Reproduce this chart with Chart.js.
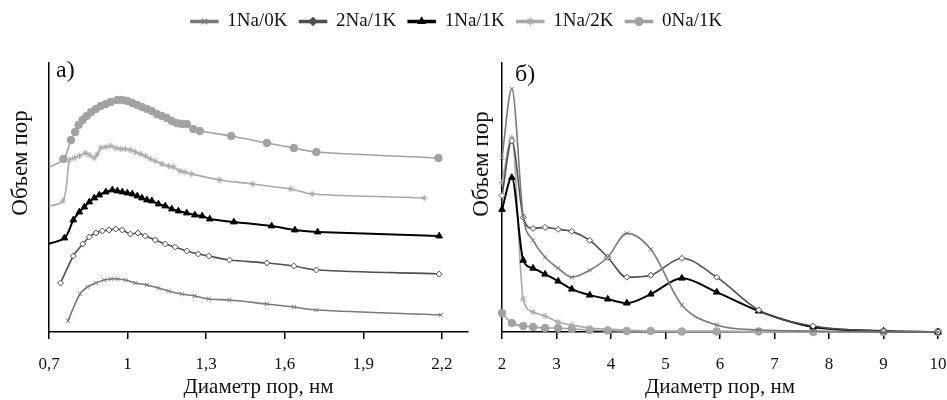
<!DOCTYPE html>
<html>
<head>
<meta charset="utf-8">
<script src="https://cdn.jsdelivr.net/npm/chart.js@4.4.0/dist/chart.umd.min.js"></script>
<style>
  body { margin: 0; background: #fff; overflow: hidden; }
  #wrap { position: relative; width: 947px; height: 400px; overflow: hidden; font-family: "Liberation Serif", "Times New Roman", serif; color: #111; }
  canvas { position: absolute; }
  .lbl { position: absolute; font-size: 24px; line-height: 1; }
  .ytitle { position: absolute; font-size: 23px; line-height: 1; white-space: nowrap; transform: translate(-50%, -50%) rotate(-90deg); }
</style>
</head>
<body>
<div id="wrap">
  <canvas id="legendChart" width="947" height="80" style="left:0;top:0"></canvas>
  <canvas id="chartA" width="473" height="360" style="left:0;top:40px"></canvas>
  <canvas id="chartB" width="480" height="360" style="left:473px;top:40px"></canvas>
  <div class="lbl" style="left:56px;top:57px">а)</div>
  <div class="lbl" style="left:515px;top:61px">б)</div>
  <div class="ytitle" style="left:19px;top:163px">Объем пор</div>
  <div class="ytitle" style="left:480px;top:164px">Объем пор</div>
</div>
<script>
'use strict';

// séries
var seriesNames = ['1Na/0K', '2Na/1K', '1Na/1K', '1Na/2K', '0Na/1K'];

// panneau a) : 0,7 - 2,2 nm (courbes décalées, unités arbitraires)
var a_ticks = [0.7, 1, 1.3, 1.6, 1.9, 2.2];

var a_1Na0K_x = [0.772, 0.818, 0.847, 0.879, 0.910, 0.936, 0.961, 0.992, 1.030, 1.074, 1.118, 1.156, 1.207, 1.257, 1.310, 1.389, 1.532, 1.635, 1.721, 2.196];
var a_1Na0K_y = [11, 38, 45, 49, 52, 53, 53, 52, 49, 47, 44, 41, 38, 36, 33, 32, 28, 25, 22, 17];

var a_2Na1K_x = [0.744, 0.793, 0.829, 0.854, 0.879, 0.904, 0.929, 0.955, 0.980, 1.011, 1.040, 1.068, 1.106, 1.144, 1.182, 1.226, 1.270, 1.310, 1.389, 1.532, 1.635, 1.721, 2.190];
var a_2Na1K_y = [49, 76, 88, 95, 99, 101, 102, 103, 102, 98, 99, 96, 92, 88, 85, 81, 78, 76, 72, 69, 66, 62, 58];

var a_1Na1K_x = [0.68, 0.759, 0.793, 0.816, 0.835, 0.854, 0.873, 0.892, 0.917, 0.942, 0.961, 0.980, 0.999, 1.018, 1.037, 1.055, 1.074, 1.093, 1.118, 1.144, 1.169, 1.194, 1.226, 1.257, 1.285, 1.314, 1.406, 1.550, 1.639, 1.726, 2.190];
var a_1Na1K_y = [87, 94, 112, 120, 125, 130, 134, 137, 140, 142, 141, 140, 139, 138, 136, 134, 132, 131, 128, 126, 123, 121, 119, 117, 116, 113, 110, 106, 102, 100, 96];

var a_1Na2K_x = [0.68, 0.753, 0.778, 0.797, 0.816, 0.839, 0.854, 0.873, 0.885, 0.898, 0.917, 0.936, 0.955, 0.974, 0.992, 1.011, 1.030, 1.049, 1.068, 1.087, 1.106, 1.131, 1.156, 1.175, 1.200, 1.219, 1.245, 1.352, 1.478, 1.623, 1.705, 2.133];
var a_1Na2K_y = [125, 131, 172, 174, 176, 179, 177, 174, 178, 184, 185, 186, 184, 183, 183, 182, 180, 178, 176, 173, 171, 168, 166, 165, 161, 160, 158, 152, 148, 143, 138, 134];

var a_0Na1K_x = [0.68, 0.755, 0.784, 0.800, 0.813, 0.828, 0.844, 0.861, 0.879, 0.898, 0.917, 0.936, 0.961, 0.980, 0.999, 1.018, 1.037, 1.055, 1.074, 1.093, 1.112, 1.131, 1.150, 1.169, 1.188, 1.207, 1.226, 1.251, 1.276, 1.396, 1.532, 1.635, 1.721, 2.187];
var a_0Na1K_y = [162, 173, 192, 200, 207, 212, 216, 220, 223, 226, 228, 230, 232, 232, 231, 229, 227, 225, 223, 221, 218, 216, 214, 211, 209, 208, 208, 203, 201, 196, 189, 184, 180, 174];

// panneau б) : 2 - 10 nm
var b_ticks = [2, 3, 4, 5, 6, 7, 8, 9, 10];
var b_x = [2.0, 2.18, 2.39, 2.57, 2.79, 3.03, 3.28, 3.61, 3.94, 4.29, 4.73, 5.30, 5.94, 6.71, 7.71, 9.0, 10.0];
var b_1Na0K_y = [175, 244, 116, 92, 75, 64, 55, 62, 75, 99, 83, 27, 7, 2, 1, 0, 0];
var b_2Na1K_y = [137, 192, 115, 104, 105, 103, 101, 92, 75, 55, 57, 74, 55, 22, 6, 1, 0];
var b_1Na1K_y = [123, 155, 72, 64, 58, 51, 43, 37, 33, 29, 38, 54, 40, 21, 5, 1, 0];
var b_1Na2K_y = [150, 195, 33, 20, 16, 10, 7, 4, 3, 2, 1, 1, 1, 0, 0, 0, 0];
var b_0Na1K_y = [19, 9, 6, 5, 4, 4, 3, 2, 1.5, 1, 1, 0.5, 0.5, 0.5, 0, 0, 0];

// styles
var lineColors = ['#7a7a7a', '#4f4f4f', '#000000', '#a9a9a9', '#a2a2a2'];
var markers = ['crossRot', 'rectRot', 'triangle', 'star', 'circle'];
var markerFill = ['#7a7a7a', '#ffffff', '#000000', '#a9a9a9', '#a2a2a2'];
var markerSize = [3, 3, 3.8, 3.2, 3.8];

Chart.defaults.font.family = '"Liberation Serif", "Times New Roman", serif';
Chart.defaults.color = '#111';

function makeSets(xLists, yLists, tension, mode, clip) {
  return seriesNames.map(function (name, i) {
    return {
      label: name,
      data: xLists[i].map(function (x, j) { return { x: x, y: yLists[i][j] }; }),
      borderColor: lineColors[i],
      backgroundColor: markerFill[i],
      borderWidth: i === 2 ? 2 : 1.6,
      pointStyle: markers[i],
      pointRadius: markerSize[i],
      pointBorderWidth: 1,
      pointBorderColor: lineColors[i],
      pointBackgroundColor: markerFill[i],
      tension: tension,
      cubicInterpolationMode: mode,
      clip: clip
    };
  });
}

function xAxis(min, max, tickList) {
  return {
    type: 'linear',
    min: min,
    max: max,
    afterBuildTicks: function (scale) {
      scale.ticks = tickList.map(function (v) { return { value: v }; });
    },
    afterFit: function (scale) { scale.height = 68; },
    ticks: {
      callback: function (v) { return String(Number(v.toFixed(1))).replace('.', ','); },
      font: { size: 17, lineHeight: 2.6 },
      color: '#111',
      padding: 3,
      maxRotation: 0
    },
    grid: { drawOnChartArea: false, color: '#000', tickLength: 7, lineWidth: 1.5 },
    border: { color: '#000', width: 1.5 },
    title: { display: true, text: 'Диаметр пор, нм', font: { size: 21 }, color: '#111', padding: 0 }
  };
}

function yAxis(max) {
  return {
    type: 'linear',
    min: 0,
    max: max,
    ticks: { display: false },
    grid: { display: false, drawTicks: false },
    border: { color: '#000', width: 1.5 }
  };
}

// panneau a)
var chartA = new Chart(document.getElementById('chartA'), {
  type: 'line',
  data: {
    datasets: makeSets([a_1Na0K_x, a_2Na1K_x, a_1Na1K_x, a_1Na2K_x, a_0Na1K_x],
                       [a_1Na0K_y, a_2Na1K_y, a_1Na1K_y, a_1Na2K_y, a_0Na1K_y], 0.3, 'default', 0)
  },
  options: {
    responsive: false,
    animation: false,
    layout: { padding: { left: 49, right: 0, top: 23, bottom: 0 } },
    scales: { x: xAxis(0.7, 2.3, a_ticks), y: yAxis(269) },
    plugins: { legend: { display: false }, tooltip: { enabled: false } }
  }
});

// panneau б)
var chartB = new Chart(document.getElementById('chartB'), {
  type: 'line',
  data: {
    datasets: makeSets(seriesNames.map(function () { return b_x; }),
                       [b_1Na0K_y, b_2Na1K_y, b_1Na1K_y, b_1Na2K_y, b_0Na1K_y], 0.4, 'monotone', false)
  },
  options: {
    responsive: false,
    animation: false,
    layout: { padding: { left: 29, right: 15, top: 23, bottom: 0 } },
    scales: { x: xAxis(2, 10, b_ticks), y: yAxis(270) },
    plugins: { legend: { display: false }, tooltip: { enabled: false } }
  }
});

// légende commune : trait + marqueur
var legendMarkers = {
  id: 'legendMarkers',
  afterDraw: function (chart) {
    var lg = chart.legend;
    var ctx = chart.ctx;
    var bw = lg.options.labels.boxWidth;
    var fs = lg.options.labels.font.size;
    lg.legendHitBoxes.forEach(function (hb, i) {
      ctx.save();
      ctx.strokeStyle = lineColors[i];
      ctx.fillStyle = lineColors[i];
      ctx.lineWidth = 1.2;
      Chart.helpers.drawPoint(ctx, { pointStyle: markers[i], radius: 4, rotation: 0, borderWidth: 1.2 },
        hb.left + bw / 2, hb.top + fs / 2);
      ctx.restore();
    });
  }
};

var legendChart = new Chart(document.getElementById('legendChart'), {
  type: 'line',
  data: {
    datasets: seriesNames.map(function (n, i) {
      return { label: n, data: [], borderColor: lineColors[i], backgroundColor: lineColors[i], borderWidth: 1.5 };
    })
  },
  options: {
    responsive: false,
    animation: false,
    layout: { padding: { top: 0, right: 34 } },
    scales: { x: { display: false }, y: { display: false } },
    plugins: {
      legend: {
        labels: { boxWidth: 27, boxHeight: 2, padding: 12, font: { size: 19 }, color: '#111' }
      },
      tooltip: { enabled: false }
    }
  },
  plugins: [legendMarkers]
});
</script>
</body>
</html>
